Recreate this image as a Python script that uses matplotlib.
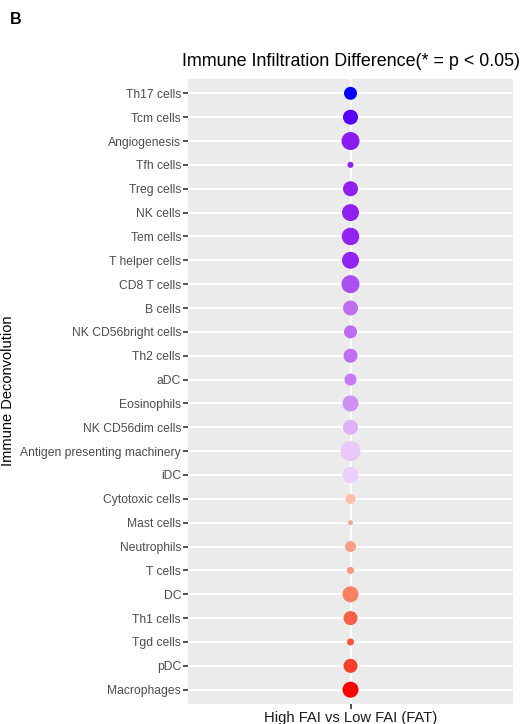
import numpy as np
import matplotlib
matplotlib.use('Agg')
from matplotlib import pyplot as plt
from matplotlib.colors import LinearSegmentedColormap, Normalize

plt.rcParams['font.family'] = ['Liberation Sans', 'DejaVu Sans']

cells = ['Th17 cells', 'Tcm cells', 'Angiogenesis', 'Tfh cells', 'Treg cells',
         'NK cells', 'Tem cells', 'T helper cells', 'CD8 T cells', 'B cells',
         'NK CD56bright cells', 'Th2 cells', 'aDC', 'Eosinophils',
         'NK CD56dim cells', 'Antigen presenting machinery', 'iDC',
         'Cytotoxic cells', 'Mast cells', 'Neutrophils', 'T cells', 'DC',
         'Th1 cells', 'Tgd cells', 'pDC', 'Macrophages']

# difference score (colour) and -log10(p) (dot size)
diff = [-1.00, -0.80, -0.62, -0.60, -0.60, -0.60, -0.59, -0.59, -0.48, -0.40,
        -0.41, -0.40, -0.36, -0.30, -0.20, -0.14, -0.12,
        0.20, 0.36, 0.40, 0.45, 0.55, 0.72, 0.76, 0.84, 1.00]
neg_log_p = [2.43, 3.24, 4.67, 0.52, 3.24, 4.16, 4.41, 4.16, 4.67, 3.24,
             2.43, 2.82, 2.07, 3.69, 3.24, 5.76, 3.69,
             1.44, 0.36, 1.74, 0.71, 3.69, 2.82, 0.71, 2.82, 3.69]
comparison = 'High FAI vs Low FAI (FAT)'

cmap = LinearSegmentedColormap.from_list('bwr_lab', [
    (0.00, '#0000FF'), (0.10, '#5A00FF'), (0.20, '#9020F0'),
    (0.30, '#C070F2'), (0.40, '#DDB0F8'), (0.50, '#FFFFFF'),
    (0.60, '#FFC0A8'), (0.70, '#F8A088'), (0.80, '#FA7858'),
    (0.90, '#F85038'), (1.00, '#FF0000')])
norm = Normalize(-1, 1)

fig = plt.figure(figsize=(5.23, 7.24), dpi=100)
ax = fig.add_axes([188 / 523, 20 / 724, 325 / 523, 625 / 724])
ax.set_facecolor('#EBEBEB')

y = np.arange(len(cells))
x = np.zeros(len(cells))
ax.scatter(x, y, s=np.array(neg_log_p) * 36, c=diff, cmap=cmap, norm=norm,
           linewidths=0, zorder=3)

ax.set_xlim(-0.6, 0.6)
ax.set_ylim(len(cells) - 0.4, -0.6)
ax.set_xticks([0])
ax.set_xticklabels([comparison], fontsize=10.6, color='#1A1A1A')
ax.set_yticks(y)
ax.set_yticklabels(cells, fontsize=8.7, color='#4D4D4D')
ax.tick_params(length=3.5, width=1.2, color='#333333', pad=1.5)
ax.grid(True, color='white', linewidth=1.5, zorder=0)
ax.set_axisbelow(True)
for s in ax.spines.values():
    s.set_visible(False)

ax.set_title('Immune Infiltration Difference(* = p < 0.05)', fontsize=12.9, pad=9)
fig.text(8 / 523, 1 - 391 / 724, 'Immune Deconvolution', fontsize=10.5,
         rotation=90, ha='center', va='center')
fig.text(10 / 523, 1 - 24 / 724, 'B', fontsize=11.5, fontweight='bold')

plt.savefig('out.png', dpi=100)
